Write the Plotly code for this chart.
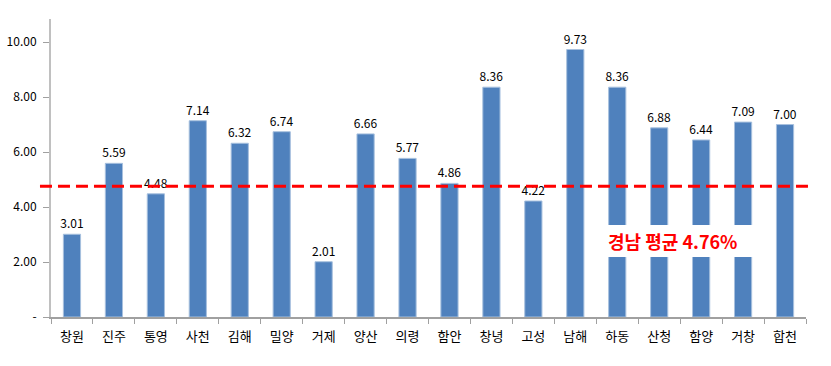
import plotly.graph_objects as go

regions = ["창원", "진주", "통영", "사천", "김해", "밀양", "거제", "양산", "의령", "함안",
           "창녕", "고성", "남해", "하동", "산청", "함양", "거창", "합천"]
values = [3.01, 5.59, 4.48, 7.14, 6.32, 6.74, 2.01, 6.66, 5.77, 4.86,
          8.36, 4.22, 9.73, 8.36, 6.88, 6.44, 7.09, 7.00]
average = 4.76
y_ticks = [0, 2, 4, 6, 8, 10]
y_tick_labels = ["-", "2.00", "4.00", "6.00", "8.00", "10.00"]
avg_label = "경남 평균 4.76%"

font_kr = "Noto Sans CJK KR, Malgun Gothic, sans-serif"

fig = go.Figure()
fig.add_trace(go.Bar(
    x=regions, y=values,
    marker=dict(color="#4F81BD", line=dict(color="#A7C0DE", width=1)),
    width=0.41,
    text=[f"{v:.2f}" for v in values],
    textposition="outside",
    constraintext="none",
    textfont=dict(size=12, color="#000000", family=font_kr),
    cliponaxis=False,
))

# average dashed line
fig.add_shape(type="line", xref="paper", yref="y",
              x0=-0.0146, x1=1.008, y0=average, y1=average,
              line=dict(color="#FF0000", width=3, dash="12px,6px"), layer="above")

# white box behind label
fig.add_shape(type="rect", xref="x", yref="y",
              x0=12.62, x1=16.45, y0=2.18, y1=3.35,
              fillcolor="white", line=dict(width=0), layer="above")
fig.add_annotation(x=14.31, y=2.76, xref="x", yref="y", text=f"<b>{avg_label}</b>",
                   showarrow=False, font=dict(size=18, color="#FF0000", family=font_kr))

fig.update_layout(
    width=831, height=366,
    margin=dict(l=51, r=25, t=19, b=49),
    paper_bgcolor="white", plot_bgcolor="white",
    showlegend=False,
    font=dict(family=font_kr, color="#000000"),
)
fig.update_xaxes(
    type="category", showline=True, linecolor="#A0A0A0", linewidth=2,
    ticks="outside", tickson="boundaries", ticklen=5, tickcolor="#A0A0A0", tickwidth=1,
    tickfont=dict(size=13, color="#000000", family=font_kr), showgrid=False,
    ticklabelstandoff=6, automargin=False,
)
fig.update_yaxes(
    range=[0, 10.84], tickvals=y_ticks, ticktext=y_tick_labels,
    showline=True, linecolor="#C0C0C0", linewidth=2,
    ticks="outside", ticklen=6, tickcolor="#A0A0A0", tickwidth=1,
    tickfont=dict(size=12, color="#000000", family=font_kr), showgrid=False, zeroline=False,
    ticklabelstandoff=4, automargin=False,
)

fig.write_html("out.html", config={"displayModeBar": False},
               post_script="document.body.style.margin='0';")
